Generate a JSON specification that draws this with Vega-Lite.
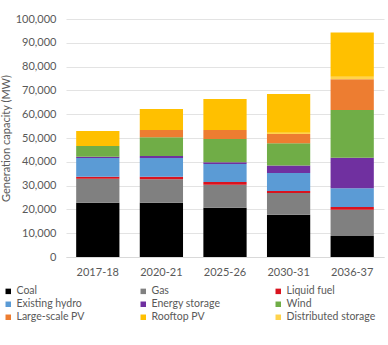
{
  "$schema": "https://vega.github.io/schema/vega-lite/v6.json",
  "autosize": "none",
  "width": 318,
  "height": 238,
  "padding": {"left": 66, "top": 19, "right": 4, "bottom": 88},
  "background": "white",
  "config": {
    "font": "Lato",
    "view": {"stroke": null}
  },
  "data": {
    "values": [
      {"year": "2017-18", "source": "Coal", "mw": 22800},
      {"year": "2017-18", "source": "Gas", "mw": 10100},
      {"year": "2017-18", "source": "Liquid fuel", "mw": 800},
      {"year": "2017-18", "source": "Existing hydro", "mw": 7900},
      {"year": "2017-18", "source": "Energy storage", "mw": 500},
      {"year": "2017-18", "source": "Wind", "mw": 4500},
      {"year": "2017-18", "source": "Large-scale PV", "mw": 0},
      {"year": "2017-18", "source": "Distributed storage", "mw": 0},
      {"year": "2017-18", "source": "Rooftop PV", "mw": 6300},
      {"year": "2020-21", "source": "Coal", "mw": 22800},
      {"year": "2020-21", "source": "Gas", "mw": 9900},
      {"year": "2020-21", "source": "Liquid fuel", "mw": 1000},
      {"year": "2020-21", "source": "Existing hydro", "mw": 7900},
      {"year": "2020-21", "source": "Energy storage", "mw": 800},
      {"year": "2020-21", "source": "Wind", "mw": 7900},
      {"year": "2020-21", "source": "Large-scale PV", "mw": 3100},
      {"year": "2020-21", "source": "Distributed storage", "mw": 0},
      {"year": "2020-21", "source": "Rooftop PV", "mw": 8800},
      {"year": "2025-26", "source": "Coal", "mw": 20700},
      {"year": "2025-26", "source": "Gas", "mw": 9700},
      {"year": "2025-26", "source": "Liquid fuel", "mw": 1100},
      {"year": "2025-26", "source": "Existing hydro", "mw": 7600},
      {"year": "2025-26", "source": "Energy storage", "mw": 700},
      {"year": "2025-26", "source": "Wind", "mw": 9800},
      {"year": "2025-26", "source": "Large-scale PV", "mw": 3800},
      {"year": "2025-26", "source": "Distributed storage", "mw": 0},
      {"year": "2025-26", "source": "Rooftop PV", "mw": 13000},
      {"year": "2030-31", "source": "Coal", "mw": 17800},
      {"year": "2030-31", "source": "Gas", "mw": 9100},
      {"year": "2030-31", "source": "Liquid fuel", "mw": 800},
      {"year": "2030-31", "source": "Existing hydro", "mw": 7600},
      {"year": "2030-31", "source": "Energy storage", "mw": 3100},
      {"year": "2030-31", "source": "Wind", "mw": 9400},
      {"year": "2030-31", "source": "Large-scale PV", "mw": 3900},
      {"year": "2030-31", "source": "Distributed storage", "mw": 500},
      {"year": "2030-31", "source": "Rooftop PV", "mw": 16300},
      {"year": "2036-37", "source": "Coal", "mw": 8800},
      {"year": "2036-37", "source": "Gas", "mw": 11100},
      {"year": "2036-37", "source": "Liquid fuel", "mw": 1100},
      {"year": "2036-37", "source": "Existing hydro", "mw": 7900},
      {"year": "2036-37", "source": "Energy storage", "mw": 12800},
      {"year": "2036-37", "source": "Wind", "mw": 20100},
      {"year": "2036-37", "source": "Large-scale PV", "mw": 12900},
      {"year": "2036-37", "source": "Distributed storage", "mw": 1000},
      {"year": "2036-37", "source": "Rooftop PV", "mw": 18600}
    ]
  },
  "transform": [
    {"calculate": "indexof(['Coal','Gas','Liquid fuel','Existing hydro','Energy storage','Wind','Large-scale PV','Distributed storage','Rooftop PV'], datum.source)", "as": "stackIdx"}
  ],
  "mark": {"type": "bar"},
  "encoding": {
    "x": {
      "field": "year",
      "type": "nominal",
      "scale": {"paddingInner": 0.32, "paddingOuter": 0.16},
      "axis": {
        "title": null,
        "labelAngle": 0,
        "labelFontSize": 11,
        "labelColor": "#595959",
        "labelPadding": 9,
        "ticks": false,
        "domainColor": "#d9d9d9"
      }
    },
    "y": {
      "field": "mw",
      "type": "quantitative",
      "stack": "zero",
      "scale": {"domain": [0, 100000], "nice": false},
      "axis": {
        "title": "Generation capacity (MW)",
        "titleFontSize": 11,
        "titleFontWeight": "normal",
        "titleColor": "#595959",
        "titlePadding": 4,
        "values": [0, 10000, 20000, 30000, 40000, 50000, 60000, 70000, 80000, 90000, 100000],
        "format": ",d",
        "labelFontSize": 11,
        "labelColor": "#595959",
        "labelPadding": 10,
        "ticks": false,
        "domain": false,
        "gridColor": "#e3e3e3"
      }
    },
    "color": {
      "field": "source",
      "type": "nominal",
      "scale": {
        "domain": ["Coal", "Gas", "Liquid fuel", "Existing hydro", "Energy storage", "Wind", "Large-scale PV", "Rooftop PV", "Distributed storage"],
        "range": ["#000000", "#808080", "#d9131e", "#5b9bd5", "#7030a0", "#70ad47", "#ed7d31", "#ffc000", "#ffd34d"]
      },
      "legend": {
        "title": null,
        "orient": "none",
        "legendX": -63,
        "legendY": 267,
        "direction": "horizontal",
        "columns": 3,
        "gridAlign": "all",
        "columnPadding": 32,
        "rowPadding": 2,
        "symbolType": "square",
        "symbolSize": 30,
        "symbolStrokeWidth": 0,
        "labelFontSize": 10.5,
        "labelColor": "#595959",
        "labelOffset": 3,
        "labelLimit": 200
      }
    },
    "order": {"field": "stackIdx", "type": "quantitative"}
  }
}
